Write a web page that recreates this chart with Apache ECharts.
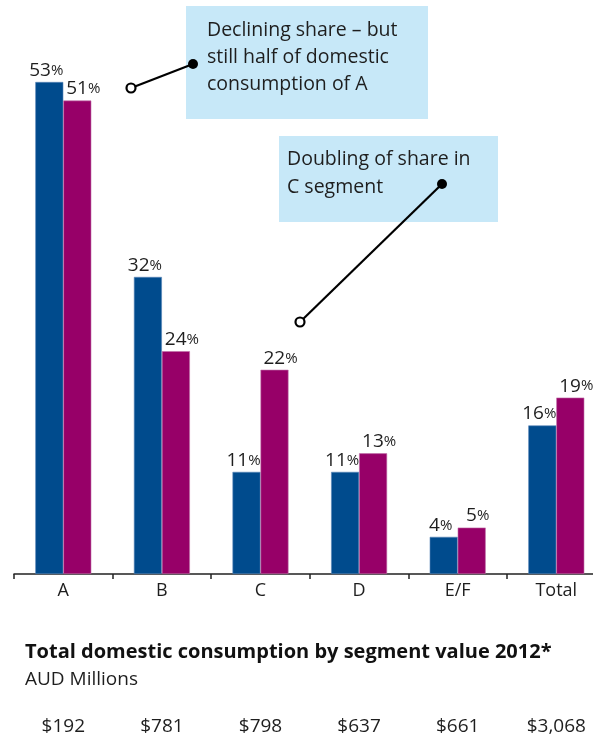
<!DOCTYPE html>
<html>
<head>
<meta charset="utf-8">
<script src="https://cdn.jsdelivr.net/npm/echarts@6/dist/echarts.min.js"></script>
<style>
html,body{margin:0;padding:0;background:#fff;}
#main{width:593px;height:735px;}
</style>
</head>
<body>
<div id="main"></div>
<script>
const categories = ['A', 'B', 'C', 'D', 'E/F', 'Total'];
const shareEarlier = [53, 32, 11, 11, 4, 16];
const shareLater = [51, 24, 22, 13, 5, 19];
const consumptionLabels = ['$192', '$781', '$798', '$637', '$661', '$3,068'];
const titleText = 'Total domestic consumption by segment value 2012*';
const subtitleText = 'AUD Millions';
const note1 = ['Declining share \u2013 but', 'still half of domestic', 'consumption of A'];
const note2 = ['Doubling of share in', 'C segment'];

const FONT = '"Open Sans", "Noto Sans", sans-serif';
const TXT = '#1e1e1e';

const chart = echarts.init(document.getElementById('main'), null, {renderer: 'canvas'});

function pctLabel(offsetX) {
  return {
    show: true,
    position: 'top',
    distance: 2,
    offset: [offsetX, 0],
    formatter: p => '{n|' + p.value + '}{p|%}',
    rich: {
      n: {fontFamily: FONT, fontSize: 19, color: TXT},
      p: {fontFamily: FONT, fontSize: 15, color: TXT}
    }
  };
}

const option = {
  animation: false,
  backgroundColor: '#ffffff',
  grid: {left: 14, top: 17, width: 591.6, height: 557, containLabel: false, outerBoundsMode: 'none'},
  xAxis: [
    {
      type: 'category',
      data: categories,
      position: 'bottom',
      axisLine: {show: true, lineStyle: {color: '#222', width: 1.5}},
      axisTick: {show: true, length: 5, lineStyle: {color: '#222', width: 1.5}},
      axisLabel: {fontFamily: FONT, fontSize: 18, color: TXT, margin: 8}
    },
    {
      type: 'category',
      data: consumptionLabels,
      position: 'bottom',
      offset: 135,
      axisLine: {show: false},
      axisTick: {show: false},
      axisLabel: {fontFamily: FONT, fontSize: 19, color: TXT, margin: 8}
    }
  ],
  yAxis: {
    type: 'value', min: 0, max: 60, show: false,
    splitLine: {show: false}
  },
  series: [
    {
      type: 'bar', xAxisIndex: 0, data: shareEarlier, barWidth: 28, barGap: '0%',
      itemStyle: {color: '#004b8d', borderColor: '#5a86b8', borderWidth: 0.6},
      label: pctLabel(-3)
    },
    {
      type: 'bar', xAxisIndex: 0, data: shareLater, barWidth: 28, barGap: '0%',
      itemStyle: {color: '#970068', borderColor: '#c070a8', borderWidth: 0.6},
      label: pctLabel(6)
    }
  ],
  graphic: [
    {type: 'rect', shape: {x: 186, y: 6, width: 242, height: 113}, style: {fill: '#c7e8f8'}, z: 1},
    {type: 'rect', shape: {x: 279, y: 136, width: 219, height: 86}, style: {fill: '#c7e8f8'}, z: 1},
    {type: 'text', x: 207, y: 17.5, z: 2, style: {text: note1.join('\n'), font: '19.5px ' + FONT, fill: TXT, lineHeight: 26.7}},
    {type: 'text', x: 287, y: 146, z: 2, style: {text: note2.join('\n'), font: '19.5px ' + FONT, fill: TXT, lineHeight: 27.5}},
    {type: 'line', shape: {x1: 131, y1: 88, x2: 193, y2: 64}, style: {stroke: '#000', lineWidth: 2.2}, z: 3},
    {type: 'circle', shape: {cx: 131, cy: 88, r: 4.5}, style: {fill: '#fff', stroke: '#000', lineWidth: 2.2}, z: 4},
    {type: 'circle', shape: {cx: 193, cy: 64, r: 5}, style: {fill: '#000'}, z: 4},
    {type: 'line', shape: {x1: 442, y1: 184, x2: 300, y2: 322}, style: {stroke: '#000', lineWidth: 2.2}, z: 3},
    {type: 'circle', shape: {cx: 300, cy: 322, r: 4.5}, style: {fill: '#fff', stroke: '#000', lineWidth: 2.2}, z: 4},
    {type: 'circle', shape: {cx: 442, cy: 184, r: 5}, style: {fill: '#000'}, z: 4},
    {type: 'text', x: 25, y: 642, style: {text: titleText, font: 'bold 20px ' + FONT, fill: '#111'}},
    {type: 'text', x: 25, y: 670, style: {text: subtitleText, font: '19px ' + FONT, fill: TXT}}
  ]
};
chart.setOption(option);
</script>
</body>
</html>
